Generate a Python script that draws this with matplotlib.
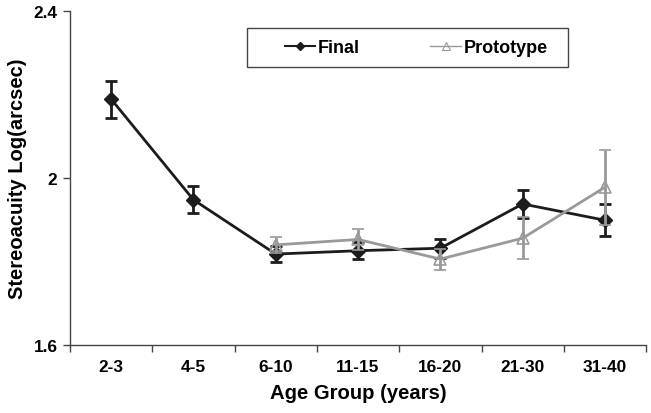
import numpy as np
import matplotlib
matplotlib.use('Agg')
import matplotlib.pyplot as plt
from matplotlib.lines import Line2D
from matplotlib.patches import Rectangle

plt.rcParams['font.family'] = ['Liberation Sans', 'DejaVu Sans']
plt.rcParams['font.weight'] = 'bold'

groups = ['2-3', '4-5', '6-10', '11-15', '16-20', '21-30', '31-40']

final_mean = [2.188, 1.947, 1.817, 1.825, 1.831, 1.937, 1.898]
final_err = [0.044, 0.032, 0.020, 0.021, 0.023, 0.034, 0.038]

# prototype only measured from 6-10 on
proto_groups = ['6-10', '11-15', '16-20', '21-30', '31-40']
proto_mean = [1.839, 1.852, 1.805, 1.855, 1.977]
proto_err = [0.019, 0.026, 0.025, 0.050, 0.090]

yticks = [1.6, 2.0, 2.4]
ytick_labels = ['1.6', '2', '2.4']

x = np.arange(len(groups))
px = np.array([groups.index(g) for g in proto_groups])

fig = plt.figure(figsize=(6.51, 4.14), dpi=100)
ax = fig.add_axes([0.1075, 0.165, 0.885, 0.807])

dark = '#1c1c1c'
grey = '#999999'

ax.errorbar(x, final_mean, yerr=final_err, color=dark, lw=2, marker='D', ms=7,
            mfc=dark, mec=dark, capsize=4, capthick=2, elinewidth=2, zorder=3)
ax.errorbar(px, proto_mean, yerr=proto_err, color=grey, lw=2, marker='^', ms=9,
            mfc='none', mec=grey, mew=1.2, capsize=4, capthick=2, elinewidth=2, zorder=4)

ax.set_xlim(-0.5, len(groups) - 0.5)
ax.set_ylim(1.6, 2.4)
ax.set_xticks(x)
ax.set_xticklabels(groups)
ax.set_xticks(np.arange(len(groups) + 1) - 0.5, minor=True)
ax.tick_params(axis='x', which='major', length=0, pad=10, labelsize=12.4)
ax.tick_params(axis='x', which='minor', length=5, width=1, color='#444444', direction='out')
ax.set_yticks(yticks)
ax.set_yticklabels(ytick_labels)
ax.tick_params(axis='y', length=5, width=1, color='#444444', labelsize=12.4, pad=4)

for s in ['top', 'right']:
    ax.spines[s].set_visible(False)
for s in ['left', 'bottom']:
    ax.spines[s].set_color('#444444')
    ax.spines[s].set_linewidth(1)

ax.set_xlabel('Age Group (years)', fontsize=14.6, fontweight='bold', labelpad=7)
ax.set_ylabel('Stereoacuity Log(arcsec)', fontsize=14.5, fontweight='bold', labelpad=5)

# legend frame drawn by hand, entries placed inside without their own frame
ax.add_patch(Rectangle((0.307, 0.831), 0.558, 0.117, transform=ax.transAxes,
                       fill=False, ec='#444444', lw=1, zorder=5, clip_on=False))
handles = [
    Line2D([], [], color=dark, lw=1.5, marker='D', ms=4.5, mfc=dark, mec=dark),
    Line2D([], [], color=grey, lw=1, marker='^', ms=6, mfc='none', mec=grey, mew=0.8),
]
leg = ax.legend(handles, ['Final', 'Prototype'], loc='center',
                bbox_to_anchor=(0.601, 0.890), ncol=2, fontsize=13, frameon=False,
                handlelength=1.7, handletextpad=0.15, columnspacing=3.9,
                borderpad=0, borderaxespad=0)

fig.savefig('out.png', dpi=100)
